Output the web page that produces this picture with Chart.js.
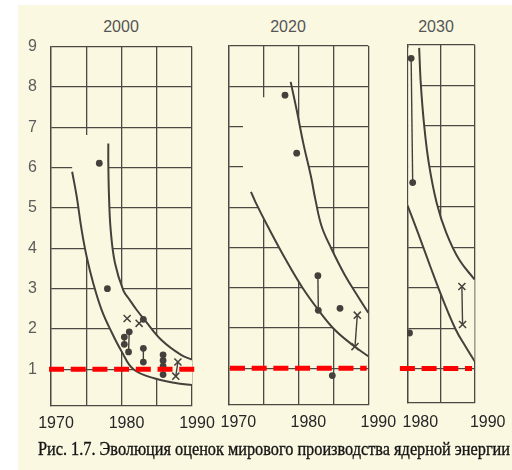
<!DOCTYPE html>
<html>
<head>
<meta charset="utf-8">
<script src="https://cdn.jsdelivr.net/npm/chart.js@4.4.1/dist/chart.umd.min.js"></script>
<style>
html,body{margin:0;padding:0;background:#fff;overflow:hidden}
#page{position:relative;width:512px;height:470px;overflow:hidden}
#paper{position:absolute;left:18px;top:5px;right:0;bottom:0;background:#fbf8e2}
canvas{position:absolute;top:0}
.ttl{position:absolute;top:19px;width:80px;text-align:center;font:16px "Liberation Sans",Arial,sans-serif;line-height:16px;color:#555}
#cap{position:absolute;left:38px;top:440px;white-space:nowrap;font:18px "Liberation Serif",serif;line-height:18px;color:#141414;transform-origin:0 0;-webkit-text-stroke:0.35px #141414}
</style>
</head>
<body>
<div id="page">
  <div id="paper"></div>
  <div class="ttl" style="left:81px">2000</div>
  <div class="ttl" style="left:248px">2020</div>
  <div class="ttl" style="left:396px">2030</div>
  <canvas id="c2000" width="240" height="440" style="left:0"></canvas>
  <canvas id="c2020" width="220" height="440" style="left:200px"></canvas>
  <canvas id="c2030" width="132" height="440" style="left:380px"></canvas>
  <div id="cap">Рис. 1.7. Эволюция оценок мирового производства ядерной энергии</div>
</div>
<script>
const INK = "#45403b"
const GRID = "#4d4843"
const PAPER = "#fbf8e2"
const RED = "#ff0000"

const yTicks = [1,2,3,4,5,6,7,8,9]
const xTicksWide = [1970,1975,1980,1985,1990]
const xLabelsWide = [1970,1980,1990]
const xTicks2030 = [1980,1985,1990]
const xLabels2030 = [1980,1990]

// --- 2000 ---
const lower2000Years = [1973.0,1973.65,1974.35,1975.06,1976.0,1977.19,1978.6,1980.0,1981.7,1984.75,1988.06,1990]
const lower2000Vals  = [5.90,5.28,4.45,3.79,3.13,2.47,1.92,1.45,1.0,0.77,0.65,0.61]
const upper2000Years = [1978.13,1978.13,1978.23,1978.47,1979.08,1980.26,1981.2,1982.16,1983.3,1985.7,1988.5,1990]
const upper2000Vals  = [6.60,6.11,5.28,4.45,3.63,2.96,2.71,2.47,2.22,1.72,1.35,1.24]
const bandEdge2000Years = [1978.13,1973.0]
const bandEdge2000Vals  = [6.81,6.81]
const dot2000Years = [1976.85,1978.0,1983.1,1980.4,1980.4,1981.1,1981.0,1983.1,1983.1,1985.9,1985.9,1985.9,1985.9]
const dot2000Vals  = [6.11,3.0,2.24,1.80,1.62,1.93,1.43,1.52,1.18,1.36,1.22,1.08,0.87]
const cross2000Years = [1980.8,1982.5,1988.0,1987.7]
const cross2000Vals  = [2.26,2.14,1.18,0.83]
const pair2000Years = [[1980.4,1980.4],[1981.1,1981.0],[1983.1,1983.1],[1985.9,1985.9],[1988.0,1987.7]]
const pair2000Vals  = [[1.80,1.62],[1.93,1.43],[1.52,1.18],[1.36,0.87],[1.18,0.83]]
const red2000Years = [1969.72,1990.57]

// --- 2020 ---
const lower2020Years = [1973.24,1973.9,1975.65,1978.2,1980.6,1982.86,1985.24,1987.9,1990]
const lower2020Vals  = [5.38,5.12,4.52,3.70,3.00,2.45,1.95,1.56,1.30]
const upper2020Years = [1978.91,1979.77,1980.71,1981.81,1982.45,1983.34,1984.7,1986.6,1988.5,1990]
const upper2020Vals  = [8.11,7.41,6.59,5.76,5.18,4.52,3.98,3.33,2.79,2.38]
const bandEdge2020Years = [1979.38,1972.1,1972.1]
const bandEdge2020Vals  = [7.73,7.73,5.45]
const dot2020Years = [1978.1,1979.77,1982.8,1982.86,1985.96,1984.86]
const dot2020Vals  = [7.78,6.34,3.30,2.44,2.49,0.82]
const cross2020Years = [1988.43,1988.1]
const cross2020Vals  = [2.32,1.54]
const pair2020Years = [[1982.8,1982.86],[1988.43,1988.1]]
const pair2020Vals  = [[3.30,2.44],[2.32,1.54]]
const red2020Years = [1970.24,1989.77]

// --- 2030 ---
const lower2030Years = [1980.0,1981.6,1983.4,1985.3,1987.2,1988.66,1990]
const lower2030Vals  = [5.05,4.35,3.53,2.70,1.96,1.54,1.18]
const upper2030Years = [1981.76,1982.0,1982.47,1983.19,1984.37,1985.8,1987.71,1990]
const upper2030Vals  = [8.93,8.05,7.07,6.08,5.09,4.35,3.69,3.20]
const bandEdge2030Years = [1981.76,1980.15,1980.15]
const bandEdge2030Vals  = [8.93,8.93,5.05]
const dot2030Years = [1980.57,1980.8,1980.33]
const dot2030Vals  = [8.67,5.60,1.88]
const cross2030Years = [1988.1,1988.2]
const cross2030Vals  = [3.03,2.09]
const pair2030Years = [[1980.57,1980.8],[1988.1,1988.2]]
const pair2030Vals  = [[8.67,5.60],[3.03,2.09]]
const red2030Years = [1978.9,1989.61]

Chart.defaults.font.family = '"Liberation Sans", Arial, sans-serif'

function pts(xs, ys){ return xs.map((x,i)=>({x:x, y:ys[i]})) }

function band(lx, ly, ux, uy, ex, ey){
  const cap = Math.max(...ey)
  const upper = pts(ux, uy).filter(p=>p.y < cap).reverse()
  return pts(lx, ly).concat(upper, pts(ex, ey))
}

function panel(id, cfg){
  const ds = []
  ds.push({ data: pts(cfg.red, cfg.red.map(()=>1)), showLine:true, borderColor:RED, borderWidth:5,
    borderDash:[15,6.7], pointRadius:0, clip:false, order:0 })
  ds.push({ data: pts(cfg.dotX, cfg.dotY), pointRadius:3.4, pointBackgroundColor:INK, pointBorderWidth:0, order:1 })
  ds.push({ data: pts(cfg.crossX, cfg.crossY), pointStyle:"crossRot", pointRadius:5,
    pointBorderColor:INK, pointBorderWidth:1.5, order:2 })
  cfg.pairX.forEach((px,i)=>{
    ds.push({ data: pts(px, cfg.pairY[i]), showLine:true, borderColor:INK, borderWidth:1.4, pointRadius:0, order:3 })
  })
  ds.push({ data: pts(cfg.lowX, cfg.lowY), showLine:true, borderColor:INK, borderWidth:2, tension:0.4, pointRadius:0, order:4 })
  ds.push({ data: pts(cfg.upX, cfg.upY), showLine:true, borderColor:INK, borderWidth:2, tension:0.4, pointRadius:0, order:4 })
  ds.push({ data: band(cfg.lowX, cfg.lowY, cfg.upX, cfg.upY, cfg.edgeX, cfg.edgeY), showLine:true, fill:"shape",
    backgroundColor:PAPER, borderColor:"rgba(0,0,0,0)", borderWidth:0, pointRadius:0, tension:0, order:9 })

  const grid = { color:GRID, lineWidth:1.3, drawTicks:false }
  const border = { color:GRID, width:1.3 }

  new Chart(document.getElementById(id), {
    type:"scatter",
    data:{ datasets: ds },
    options:{
      responsive:false, animation:false, devicePixelRatio:1, events:[],
      layout:{ padding:{ top:cfg.top, left:cfg.left, right:cfg.right, bottom:0 } },
      plugins:{ legend:{ display:false }, tooltip:{ enabled:false } },
      scales:{
        x:{ type:"linear", min:cfg.xTicks[0], max:cfg.xTicks[cfg.xTicks.length-1],
          afterBuildTicks: s => { s.ticks = cfg.xTicks.map(v=>({value:v})) },
          afterFit: s => { s.height = cfg.xh },
          grid, border,
          ticks:{ autoSkip:false, maxRotation:0, padding:cfg.xpad, labelOffset:cfg.labelOffset, color:"#262626",
            font:{ size:16 }, callback: v => cfg.xLabels.includes(v) ? String(v) : "" } },
        y:{ type:"linear", min:cfg.ymin, max:9,
          afterBuildTicks: s => { s.ticks = yTicks.map(v=>({value:v})) },
          afterFit: s => { s.width = cfg.yw },
          grid, border,
          ticks:{ display:cfg.yLabels, padding:14, color:"#5c5c5c", font:{ size:16 }, callback: v => String(v) } }
      }
    }
  })
}

panel("c2000", { top:46.7, left:0, right:48, yw:51, xh:34, xpad:8, labelOffset:5, ymin:0.09, yLabels:true,
  xTicks:xTicksWide, xLabels:xLabelsWide,
  lowX:lower2000Years, lowY:lower2000Vals, upX:upper2000Years, upY:upper2000Vals,
  edgeX:bandEdge2000Years, edgeY:bandEdge2000Vals,
  dotX:dot2000Years, dotY:dot2000Vals, crossX:cross2000Years, crossY:cross2000Vals,
  pairX:pair2000Years, pairY:pair2000Vals, red:red2000Years })

panel("c2020", { top:46, left:28.3, right:51.7, yw:0, xh:35, xpad:8, labelOffset:10, ymin:0.09, yLabels:false,
  xTicks:xTicksWide, xLabels:xLabelsWide,
  lowX:lower2020Years, lowY:lower2020Vals, upX:upper2020Years, upY:upper2020Vals,
  edgeX:bandEdge2020Years, edgeY:bandEdge2020Vals,
  dotX:dot2020Years, dotY:dot2020Vals, crossX:cross2020Years, crossY:cross2020Vals,
  pairX:pair2020Years, pairY:pair2020Vals, red:red2020Years })

panel("c2030", { top:45, left:24.7, right:37.3, yw:0, xh:37, xpad:9.5, labelOffset:13, ymin:0.15, yLabels:false,
  xTicks:xTicks2030, xLabels:xLabels2030,
  lowX:lower2030Years, lowY:lower2030Vals, upX:upper2030Years, upY:upper2030Vals,
  edgeX:bandEdge2030Years, edgeY:bandEdge2030Vals,
  dotX:dot2030Years, dotY:dot2030Vals, crossX:cross2030Years, crossY:cross2030Vals,
  pairX:pair2030Years, pairY:pair2030Vals, red:red2030Years })

const cap = document.getElementById("cap")
const capW = cap.getBoundingClientRect().width
cap.style.transform = "scaleX(" + (472 / capW) + ")"
</script>
</body>
</html>
